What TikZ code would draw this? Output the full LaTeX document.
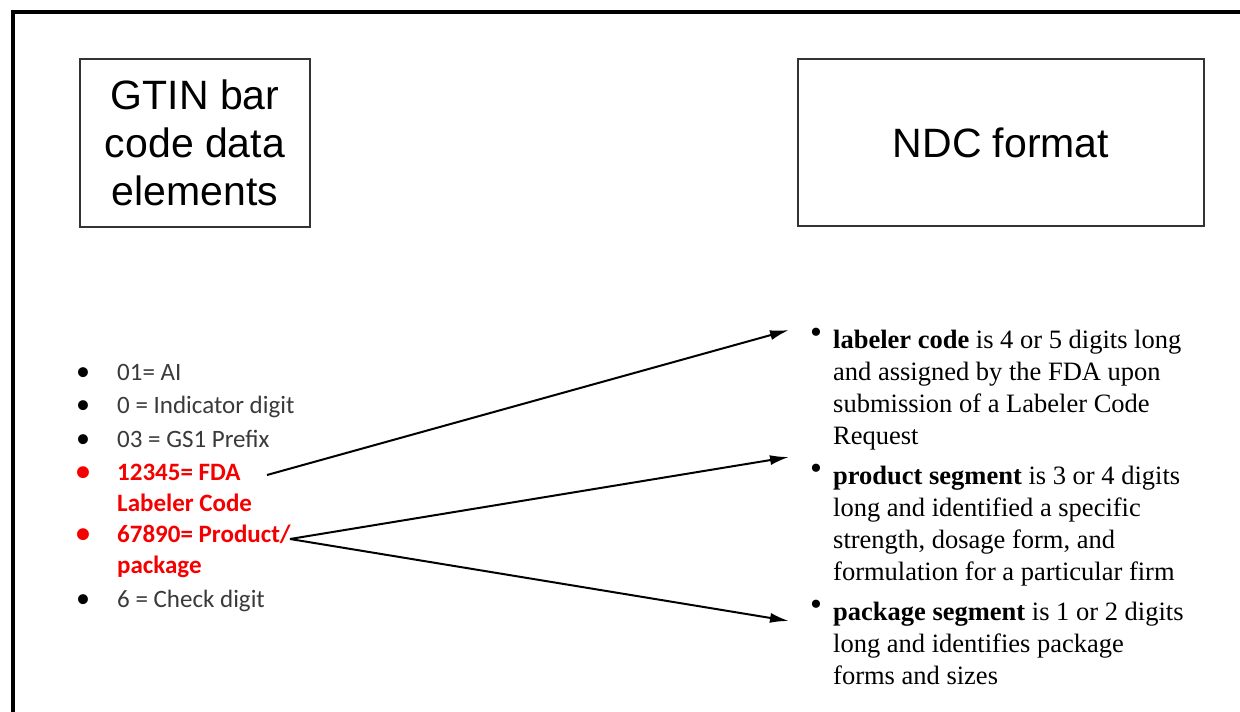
\documentclass[tikz,border=0pt]{standalone}
\usepackage{fontspec}
\setmainfont{Liberation Serif}
\newfontfamily\arialfont{Liberation Sans}
\newfontfamily\calfont{Carlito}
\usetikzlibrary{positioning,arrows.meta}
\definecolor{itemgrey}{HTML}{3A3A3A}
\definecolor{itemred}{HTML}{F50000}
\newcommand{\gtinbul}{\makebox[41pt][l]{\fontsize{28}{28}\selectfont\textbullet}}
\newcommand{\gtinblk}{\makebox[41pt][l]{\color{black}\fontsize{28}{28}\selectfont\textbullet}}

\begin{document}
\begin{tikzpicture}[x=1pt,y=-1pt,
    >={Latex[length=19pt,width=10pt]},
    titlebox/.style={draw=black!80,line width=1.5pt,align=center,
      font=\arialfont\fontsize{41}{48}\selectfont},
    greyitem/.style={anchor=base west,align=left,inner sep=0pt,text=itemgrey,
      font=\calfont\fontsize{25}{32}\selectfont},
    reditem/.style={greyitem,text=itemred,
      font=\calfont\bfseries\fontsize{25}{31}\selectfont},
    ndcitem/.style={anchor=base west,align=left,inner sep=0pt,
      font=\fontsize{26.5}{32}\selectfont},
    ndcdot/.style={inner sep=0pt,font=\fontsize{34}{34}\selectfont},
    link/.style={->,line width=2pt}
  ]
    \useasboundingbox (0,0) rectangle (1240,712);
    % frame, top and left side only
    \draw[line width=4pt] (13,712) -- (13,12) -- (1240,12);

    % headings
    \node[titlebox,minimum width=230pt,minimum height=168pt] (gtin) at (195,143)
      {GTIN bar\\code data\\elements};
    \node[titlebox,minimum width=406pt,minimum height=167pt] (ndc) at (1001,142.5)
      {NDC format};

    % GTIN data elements (base = baseline of the last line)
    \node[greyitem] (ai)  at (76,380) {\gtinblk 01= AI};
    \node[greyitem] (ind) at (76,413) {\gtinblk 0 = Indicator digit};
    \node[greyitem] (gs1) at (76,447) {\gtinblk 03 = GS1 Prefix};
    \node[reditem]  (lab) at (76,511) {\gtinbul 12345= FDA\\
      \hspace*{41pt}Labeler Code};
    \node[reditem]  (prod) at (76,573) {\gtinbul 67890= Product/\\
      \hspace*{41pt}package};
    \node[greyitem] (chk) at (76,607) {\gtinblk 6 = Check digit};

    % NDC segments
    \node[ndcdot] (labdot)  at (816,336) {\textbullet};
    \node[ndcdot] (proddot) at (816,472) {\textbullet};
    \node[ndcdot] (pkgdot)  at (816,608) {\textbullet};
    \node[ndcitem] (labseg) at (833,444) {\textbf{labeler code} is 4 or 5 digits long\\
      and assigned by the FDA upon\\submission of a Labeler Code\\Request};
    \node[ndcitem] (prodseg) at (833,580) {\textbf{product segment} is 3 or 4 digits\\
      long and identified a specific\\strength, dosage form, and\\
      formulation for a particular firm};
    \node[ndcitem] (pkgseg) at (833,684) {\textbf{package segment} is 1 or 2 digits\\
      long and identifies package\\forms and sizes};

    % arrows
    \coordinate (labout)  at (267,475);
    \coordinate (prodout) at (290,539);
    \coordinate (labin)  at (789,330);
    \coordinate (prodin) at (789,457);
    \coordinate (pkgin)  at (789,621);
    \draw[link] (labout) -- (labin);
    \draw[link] (prodout) -- (prodin);
    \draw[link] (prodout) -- (pkgin);
  \end{tikzpicture}
\end{document}
